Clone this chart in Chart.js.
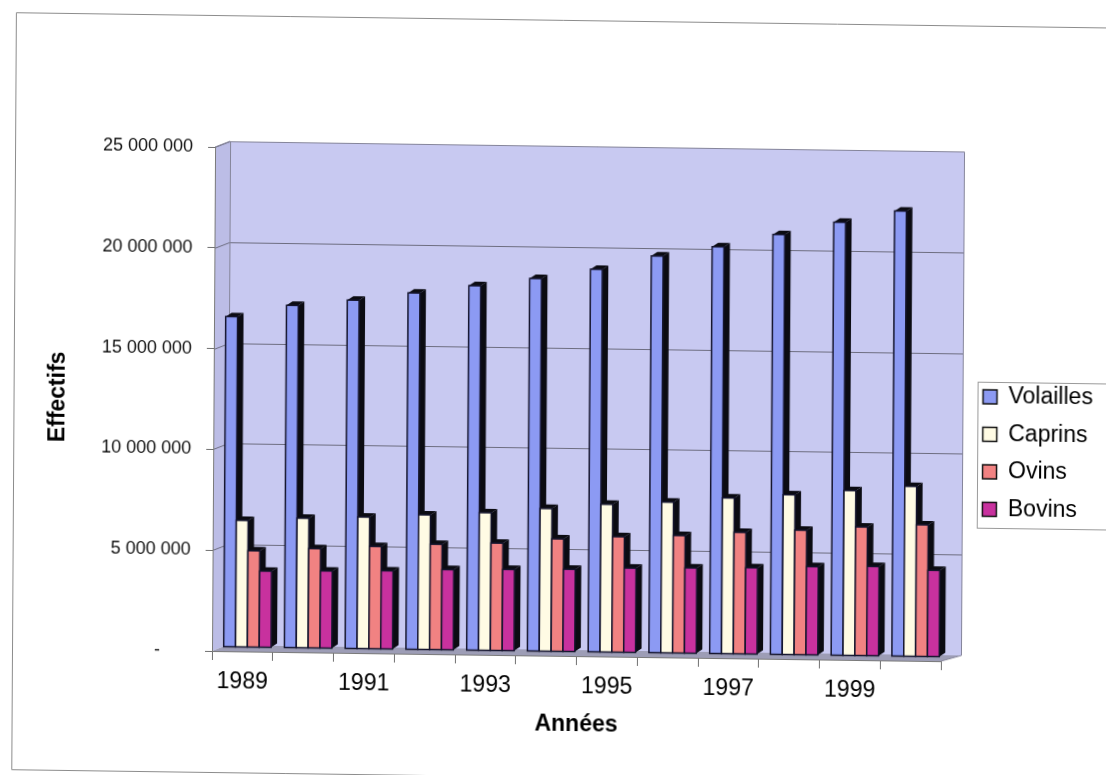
<!DOCTYPE html>
<html>
<head>
<meta charset="utf-8">
<title>Effectifs du cheptel 1989-2000</title>
<script src="https://cdn.jsdelivr.net/npm/chart.js@4.4.1/dist/chart.umd.min.js"></script>
<style>
  html, body { margin: 0; padding: 0; background: #ffffff; overflow: hidden; }
  #wrap {
    width: 1106px; height: 775px;
    transform-origin: 212px 651px;
    transform: rotate(0.35deg) skewY(0.45deg);
  }
  canvas { display: block; }
</style>
</head>
<body>
<div id="wrap"><canvas id="chart" width="1106" height="775"></canvas></div>
<script>
// Categories (years) and herd sizes per species
const years = ['1989', '1990', '1991', '1992', '1993', '1994', '1995', '1996', '1997', '1998', '1999', '2000'];
const volailles = [16400000, 17000000, 17300000, 17700000, 18100000, 18500000, 19000000, 19700000, 20200000, 20850000, 21500000, 22100000];
const caprins   = [6300000, 6450000, 6550000, 6700000, 6850000, 7100000, 7350000, 7500000, 7750000, 7950000, 8200000, 8450000];
const ovins     = [4800000, 4950000, 5100000, 5250000, 5350000, 5600000, 5750000, 5850000, 6050000, 6200000, 6400000, 6550000];
const bovins    = [3800000, 3850000, 3900000, 4000000, 4050000, 4100000, 4200000, 4250000, 4300000, 4400000, 4450000, 4300000];
const seriesNames = ['Volailles', 'Caprins', 'Ovins', 'Bovins'];
const yTicks = [0, 5000000, 10000000, 15000000, 20000000, 25000000];

// Drawing parameters for the pseudo-3D look
const AREA_RIGHT = 941;               // front edge of the floor
const WALL = { dx: 15, dy: -6 };      // back wall offset from the front plane
const WALL_EXTRA = 5;                 // back wall reaches a little past the floor
const BARPLANE = { dx: 5, dy: -4 };   // plane the columns stand in
const DEPTH = { dx: 6, dy: 4 };       // visible depth of each column
const COLORS = ['#8c9af3', '#fffbe4', '#f18282', '#c8319e'];
const EDGE = '#15152e';
const FONT = "'Liberation Sans', Arial, Helvetica, sans-serif";

Chart.defaults.font.family = FONT;

function spaced(v) {
  if (v === 0) return '-      ';
  return String(v).replace(/\B(?=(\d{3})+(?!\d))/g, ' ');
}

// Walls, floor and back-wall gridlines
const wallsPlugin = {
  id: 'walls',
  beforeDraw(chart) {
    const { ctx, chartArea: a, scales: { y } } = chart;
    const L = a.left, R = a.right, T = a.top, B = a.bottom;
    const BR = R + WALL.dx + WALL_EXTRA;
    ctx.save();
    // back wall
    ctx.fillStyle = '#c8c9f1';
    ctx.fillRect(L + WALL.dx, T + WALL.dy, BR - L - WALL.dx, B - T);
    // side wall
    ctx.fillStyle = '#bcbde6';
    ctx.beginPath();
    ctx.moveTo(L, T); ctx.lineTo(L + WALL.dx, T + WALL.dy);
    ctx.lineTo(L + WALL.dx, B + WALL.dy); ctx.lineTo(L, B); ctx.closePath();
    ctx.fill();
    // floor
    ctx.fillStyle = '#9d9db6';
    ctx.beginPath();
    ctx.moveTo(L, B); ctx.lineTo(L + WALL.dx, B + WALL.dy);
    ctx.lineTo(BR, B + WALL.dy); ctx.lineTo(R, B); ctx.closePath();
    ctx.fill();
    // gridlines across side and back walls
    ctx.strokeStyle = '#6d6d80';
    ctx.lineWidth = 1;
    yTicks.forEach(v => {
      if (v === 0) return;
      const py = Math.round(y.getPixelForValue(v)) + 0.5;
      ctx.beginPath();
      ctx.moveTo(L, py);
      ctx.lineTo(L + WALL.dx, py + WALL.dy);
      ctx.lineTo(BR, py + WALL.dy);
      ctx.stroke();
    });
    // wall outlines
    ctx.strokeStyle = '#85859a';
    ctx.beginPath();
    ctx.moveTo(L + WALL.dx + 0.5, B + WALL.dy);
    ctx.lineTo(L + WALL.dx + 0.5, T + WALL.dy + 0.5);
    ctx.lineTo(BR + 0.5, T + WALL.dy + 0.5);
    ctx.lineTo(BR + 0.5, B + WALL.dy);
    ctx.lineTo(R, B);
    ctx.moveTo(L, T); ctx.lineTo(L + WALL.dx, T + WALL.dy);
    ctx.stroke();
    ctx.restore();
  }
};

// Columns drawn with a visible top and right side, standing in the middle plane
const columnsPlugin = {
  id: 'columns3d',
  beforeDatasetsDraw(chart) {
    chart.ctx.save();
    chart.ctx.translate(BARPLANE.dx, BARPLANE.dy);
  },
  afterDatasetsDraw(chart) {
    const ctx = chart.ctx;
    const n = years.length;
    for (let i = 0; i < n; i++) {
      for (let s = 0; s < seriesNames.length; s++) {
        const meta = chart.getDatasetMeta(s);
        const el = meta.data[i];
        if (!el) continue;
        const p = el.getProps(['x', 'y', 'base', 'width'], true);
        const left = p.x - p.width / 2, right = p.x + p.width / 2;
        const top = p.y, bottom = p.base;
        ctx.fillStyle = '#0b0b12';
        // right side
        ctx.beginPath();
        ctx.moveTo(right, top); ctx.lineTo(right + DEPTH.dx, top - DEPTH.dy);
        ctx.lineTo(right + DEPTH.dx, bottom - DEPTH.dy); ctx.lineTo(right, bottom);
        ctx.closePath(); ctx.fill();
        // top
        ctx.beginPath();
        ctx.moveTo(left, top); ctx.lineTo(left + DEPTH.dx, top - DEPTH.dy);
        ctx.lineTo(right + DEPTH.dx, top - DEPTH.dy); ctx.lineTo(right, top);
        ctx.closePath(); ctx.fill();
        // front face
        ctx.fillStyle = COLORS[s];
        ctx.fillRect(left, top, p.width, bottom - top);
        ctx.strokeStyle = EDGE;
        ctx.lineWidth = 1.5;
        ctx.strokeRect(left, top, p.width, bottom - top);
      }
    }
    ctx.restore();
  }
};

// Legend placement and frame, chart-area frame
const framePlugin = {
  id: 'frame',
  afterLayout(chart) {
    const lg = chart.legend;
    if (!lg) return;
    const w = lg.width;
    lg.left = 967; lg.right = 967 + w;
    lg.top = 360; lg.bottom = 775;
  },
  afterDraw(chart) {
    const ctx = chart.ctx;
    ctx.save();
    ctx.strokeStyle = '#9a9a9a';
    ctx.lineWidth = 1;
    // legend frame
    ctx.strokeRect(976.5, 371.5, 160, 146);
    // outer chart frame
    ctx.strokeStyle = '#8c8c8c';
    ctx.beginPath();
    ctx.moveTo(1110, 15.5); ctx.lineTo(12.5, 15.5);
    ctx.lineTo(12.5, 772.5); ctx.lineTo(1110, 772.5);
    ctx.stroke();
    ctx.restore();
  }
};

const seriesData = [volailles, caprins, ovins, bovins];

const chart = new Chart(document.getElementById('chart'), {
  type: 'bar',
  data: {
    labels: years,
    datasets: seriesNames.map((name, s) => ({
      label: name,
      data: seriesData[s],
      backgroundColor: COLORS[s],
      borderColor: '#111111',
      borderWidth: 1.5,
      categoryPercentage: 0.78,
      barPercentage: 1.0
    }))
  },
  options: {
    responsive: false,
    animation: false,
    devicePixelRatio: 1,
    layout: { padding: { left: 32, top: 147, right: 30, bottom: 30 } },
    plugins: {
      legend: {
        position: 'right',
        align: 'start',
        labels: {
          boxWidth: 14,
          boxHeight: 14,
          padding: 14.5,
          color: '#000000',
          font: { size: 23, family: FONT }
        }
      },
      tooltip: { enabled: false }
    },
    scales: {
      x: {
        grid: { display: true, drawOnChartArea: false, drawTicks: true, tickLength: 9, color: '#707070', offset: true },
        border: { display: true, color: '#7a7a7a' },
        ticks: {
          autoSkip: false,
          maxRotation: 0,
          padding: 8,
          color: '#000000',
          font: { size: 23, family: FONT },
          callback: (v, i) => (i % 2 === 0 ? years[i] : '')
        },
        title: {
          display: true,
          text: 'Années',
          color: '#000000',
          font: { size: 23, weight: 'bold', family: FONT },
          padding: { top: 4, bottom: 12 }
        },
        afterFit: (s) => { s.height = 775 - 30 - 651; }
      },
      y: {
        min: 0,
        max: 25000000,
        grid: { display: true, drawOnChartArea: false, tickLength: 7, color: '#707070' },
        border: { display: true, color: '#7a7a7a' },
        ticks: {
          stepSize: 5000000,
          padding: 15,
          color: '#111111',
          font: { size: 18, family: FONT },
          callback: (v) => spaced(v)
        },
        title: {
          display: true,
          text: 'Effectifs',
          color: '#000000',
          font: { size: 23, weight: 'bold', family: FONT },
          padding: { top: 11, bottom: 0 }
        },
        afterFit: (s) => { s.width = 212 - 32; }
      }
    }
  },
  plugins: [wallsPlugin, columnsPlugin, framePlugin]
});

// keep the floor's front edge at the intended position
chart.options.layout.padding.right += chart.chartArea.right - AREA_RIGHT;
chart.update();
</script>
</body>
</html>
